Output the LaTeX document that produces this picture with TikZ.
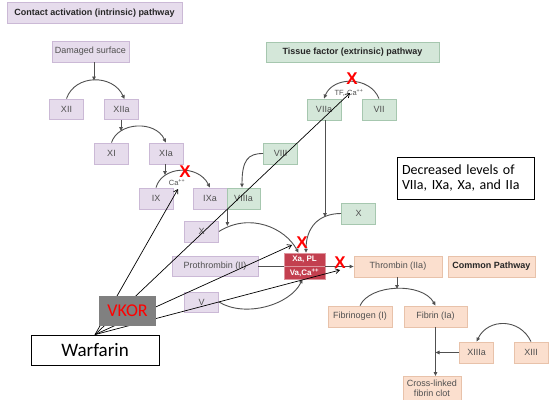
\documentclass[tikz,border=0pt]{standalone}
\usepackage{fontspec}
\setmainfont{Liberation Sans}
\newfontfamily\calibri{Carlito}
\usepackage{tikz}
\usetikzlibrary{arrows.meta,positioning}

\definecolor{purplefill}{HTML}{E6DCEC}
\definecolor{purpleline}{HTML}{CBB9D6}
\definecolor{greenfill}{HTML}{D4E7D9}
\definecolor{greenline}{HTML}{A6C7AF}
\definecolor{peachfill}{HTML}{FBDFCE}
\definecolor{peachline}{HTML}{E8C2AA}
\definecolor{redbox}{HTML}{C33F4F}
\definecolor{labelgray}{HTML}{505050}
\definecolor{vkorgray}{HTML}{808080}

\tikzset{
  factor/.style={draw=#1line, fill=#1fill, line width=0.8pt, minimum width=34pt,
    minimum height=21pt, inner sep=1pt, text=labelgray, font=\fontsize{9}{10}\selectfont},
  title/.style={factor=#1, text=black!85, font=\bfseries\fontsize{9}{10}\selectfont},
  xabox/.style={draw=redbox!55!white, fill=redbox, line width=0.5pt, minimum width=41pt,
    minimum height=13pt, inner sep=0pt, text=white, font=\bfseries\fontsize{8}{8}\selectfont},
  cofactor/.style={inner sep=0pt, text=labelgray, font=\fontsize{7.5}{8}\selectfont},
  reactline/.style={draw=labelgray, line width=0.9pt},
  react/.style={reactline, -{Triangle[length=4pt,width=3.5pt]}},
  drug/.style={black, line width=0.7pt, -{Straight Barb[length=4pt,width=5pt]}},
  blockmark/.style={inner sep=0pt, text=red, font=\bfseries\fontsize{17}{17}\selectfont}
}

\begin{document}
\begin{tikzpicture}[x=1pt,y=-1pt]
  \useasboundingbox (0,0) rectangle (554,399);
  \clip (0,0) rectangle (554,399);
  %--------------- titles ---------------
  \node[title=purple, minimum width=175pt] (intrinsic) at (94.5,13) {Contact activation (intrinsic) pathway};
  \node[title=green, minimum width=173pt, minimum height=20pt] (extrinsic) at (352.5,52) {Tissue factor (extrinsic) pathway};
  \node[title=peach, minimum width=87pt] (common) at (491.5,266.5) {Common Pathway};

  %--------------- intrinsic factors ---------------
  \node[factor=purple, minimum width=77pt] (damaged) at (90.5,51.5) {Damaged surface};
  \node[factor=purple, minimum height=20pt] (f12) at (66.5,109) {XII};
  \node[factor=purple, minimum height=20pt] (f12a) at (121.5,109.5) {XIIa};
  \node[factor=purple] (f11) at (111.5,153.5) {XI};
  \node[factor=purple] (f11a) at (166,153.5) {XIa};
  \node[factor=purple] (f9) at (156,198.5) {IX};
  \node[factor=purple] (f9a) at (210,198.5) {IXa};
  \node[factor=purple] (f10) at (201.5,231.5) {X};
  \node[factor=purple, minimum width=86pt, minimum height=20pt] (f2) at (215,266) {Prothrombin (II)};
  \node[factor=purple, minimum height=20pt] (f5) at (201.5,302) {V};

  %--------------- extrinsic factors ---------------
  \node[factor=green] (f7a) at (324,109.5) {VIIa};
  \node[factor=green] (f7) at (379,109.5) {VII};
  \node[factor=green] (f8) at (280.5,153.5) {VIII};
  \node[factor=green, minimum width=33pt] (f8a) at (243.5,198.5) {VIIIa};
  \node[factor=green] (f10g) at (358.5,213.5) {X};
  \node[cofactor] (ca) at (177,182.5) {Ca\textsuperscript{++}};
  \node[cofactor] (tf) at (349,92.5) {TF, Ca\textsuperscript{++}};

  %--------------- prothrombinase ---------------
  \node[xabox] (xapl) at (304.5,259.5) {Xa, PL};
  \node[xabox] (vaca) at (304.5,272.5) {Va,Ca\textsuperscript{++}};

  %--------------- common pathway ---------------
  \node[factor=peach, minimum width=88pt] (thrombin) at (398,266.5) {Thrombin (IIa)};
  \node[factor=peach, minimum width=64pt] (fibrinogen) at (360,316.5) {Fibrinogen (I)};
  \node[factor=peach, minimum width=63pt] (fibrin) at (435.5,316.5) {Fibrin (Ia)};
  \node[factor=peach] (f13a) at (476.5,352.5) {XIIIa};
  \node[factor=peach] (f13) at (531,352.5) {XIII};
  \node[factor=peach, minimum width=56pt, anchor=north, align=center, inner sep=4pt] (clot) at (432,376) {Cross-linked\\fibrin clot};

  %--------------- note ---------------
  \node[draw=black, fill=white, line width=0.8pt, minimum height=42pt, text width=127pt, inner sep=5pt,
    align=left, font=\calibri\fontsize{14}{15.5}\selectfont] (decreased) at (465.5,178) {Decreased levels of\\VIIa, IXa, Xa, and IIa};

  %--------------- cascade arrows ---------------
  \coordinate (j1) at (94,80.5);
  \coordinate (j2) at (121,131);
  \coordinate (j3) at (165,175);
  \coordinate (j4) at (227,226);
  \coordinate (j5) at (325,217);
  \coordinate (j6) at (397,289);
  \draw[react] (damaged.south -| j1) -- (j1);
  \draw[react] (f12.north) .. controls (75,74) and (113,74) .. ([xshift=3pt]f12a.north);
  \draw[react] (f12a.south -| j2) -- (j2);
  \draw[react] (f11.north) .. controls (118,122) and (155,120) .. (f11a.north);
  \draw[react] (f11a.south -| j3) -- (j3);
  \draw[react] (f9.north) .. controls (162,166) and (198,164) .. (f9a.north);
  \draw[react] (f8.west) .. controls (248,153.5) and (242,160) .. ([xshift=-1.5pt]f8a.north);
  \draw[react] (f9a.south east) -- (f9a.south east |- j4);
  \draw[react] (f10.east) .. controls (250,212) and (285,228) .. ([xshift=-6pt]xapl.north);
  \draw[react] (f7.north) .. controls (370,76) and (333,76) .. (f7a.north);
  \draw[react] (f7a.south -| j5) -- (j5);
  \draw[react] (f10g.west) .. controls (318,213.5) and (306,228) .. ([xshift=1.5pt]xapl.north);
  \draw[react] (f5.east) .. controls (245,318) and (290,305) .. ([xshift=-2pt]vaca.south);
  \draw[reactline] (f2.east) -- (f2.east -| xapl.west);
  \draw[react] (thrombin.west -| vaca.east) -- (thrombin.west);
  \draw[react] (thrombin.south -| j6) -- (j6);
  \draw[react] (fibrinogen.north) .. controls (370,284) and (422,282) .. (fibrin.north);
  \draw[react] (fibrin.south) -- (fibrin.south |- clot.north);
  \draw[react] (f13.north) .. controls (520,318) and (488,318) .. (f13a.north);
  \draw[react] (f13a.west) -- (f13a.west -| fibrin.south);

  %--------------- warfarin ---------------
  \node[draw=black, fill=white, line width=0.8pt, minimum width=128pt, minimum height=30pt,
    font=\calibri\fontsize{19}{19}\selectfont] (warfarin) at (95,350) {Warfarin};
  \coordinate (w1) at (178,189);
  \coordinate (w2) at (350,93);
  \coordinate (w3) at (292,245);
  \coordinate (w4) at (340,270);
  \draw[drug] (warfarin.north) -- (w1);
  \draw[drug] (warfarin.north) -- (w2);
  \draw[drug] (warfarin.north) -- (w3);
  \draw[drug] (warfarin.north) -- (w4);
  \node[fill=vkorgray, text=red, minimum width=57pt, minimum height=30pt, inner sep=0pt,
    font=\calibri\fontsize{18}{18}\selectfont] (vkor) at (127.5,311) {VKOR};

  %--------------- blocked steps ---------------
  \node[blockmark] (block1) at (185,172) {X};
  \node[blockmark] (block2) at (352,79) {X};
  \node[blockmark] (block3) at (302,243) {X};
  \node[blockmark] (block4) at (340,263) {X};
\end{tikzpicture}
\end{document}
